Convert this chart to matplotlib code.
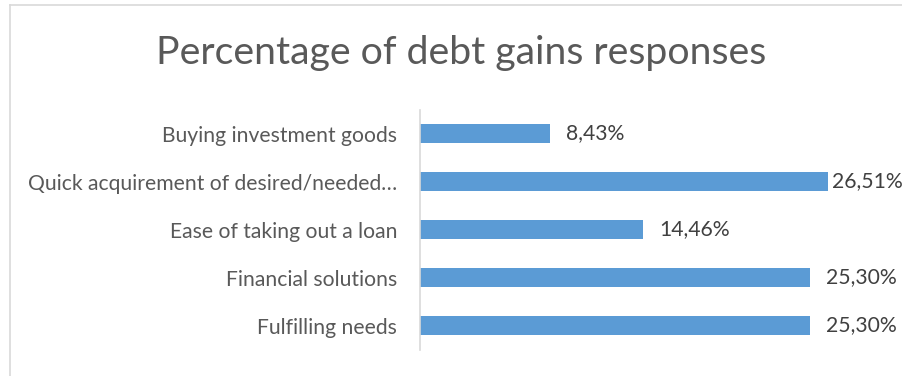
import matplotlib
matplotlib.use("Agg")
import matplotlib.pyplot as plt
from matplotlib.lines import Line2D

categories = [
    "Buying investment goods",
    "Quick acquirement of desired/needed…",
    "Ease of taking out a loan",
    "Financial solutions",
    "Fulfilling needs",
]
values = [8.43, 26.51, 14.46, 25.30, 25.30]
value_labels = ["8,43%", "26,51%", "14,46%", "25,30%", "25,30%"]
title = "Percentage of debt gains responses"

BAR_COLOR = "#5B9BD5"
FONT = "Lato"

fig = plt.figure(figsize=(9.02, 3.76), dpi=100)
W, H = 902, 376

# chart frame (left and top edges)
fx, fy = 9.5 / W, 1 - 4.5 / H
fig.add_artist(Line2D([fx, fx], [0, fy], transform=fig.transFigure, color="#D9D9D9", lw=1.2))
fig.add_artist(Line2D([fx, 1], [fy, fy], transform=fig.transFigure, color="#D9D9D9", lw=1.2))

ax = fig.add_axes([420 / W, 1 - 349.5 / H, 462 / W, 240 / H])
y = list(range(len(categories)))
ax.barh(y, values, height=0.4, color=BAR_COLOR)
ax.set_xlim(0, 30)
ax.set_ylim(len(categories) - 0.5, -0.5)
ax.set_yticks(y)
ax.set_yticklabels(categories, fontfamily=FONT, fontsize=15.2, color="#595959")
ax.tick_params(axis="y", length=0, pad=16.5)
ax.set_xticks([])
for s in ("top", "right", "bottom"):
    ax.spines[s].set_visible(False)
ax.spines["left"].set_color("#D9D9D9")
ax.spines["left"].set_linewidth(1.2)

vmax = max(values)
for yi, v, lab in zip(y, values, value_labels):
    off = 3 if v == vmax else 12
    ax.annotate(lab, (v, yi), xytext=(off, 0), textcoords="offset points",
                va="center", ha="left", fontfamily=FONT, fontsize=15.2,
                color="#404040", annotation_clip=False)

fig.text(461 / W, 1 - 53 / H, title, ha="center", va="center",
         fontfamily=FONT, fontsize=28.3, color="#595959")

fig.savefig("out.png", dpi=100)
